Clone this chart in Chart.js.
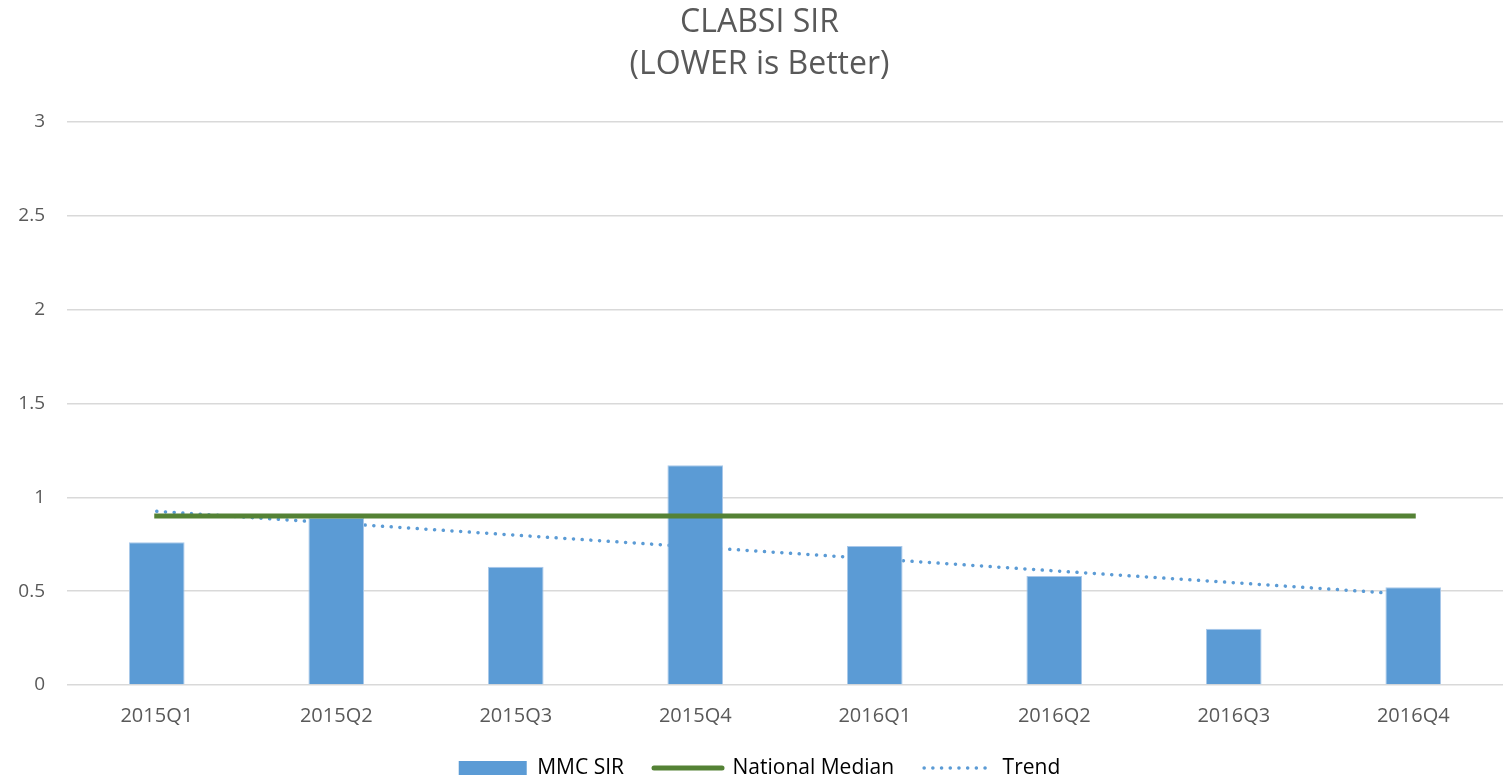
<!DOCTYPE html>
<html>
<head>
<meta charset="utf-8">
<title>CLABSI SIR</title>
<script src="https://cdn.jsdelivr.net/npm/chart.js@4.4.1/dist/chart.umd.min.js"></script>
<style>
    html, body { margin: 0; padding: 0; background: #ffffff; }
    #wrap { width: 1505px; height: 779px; }
</style>
</head>
<body>
<div id="wrap"><canvas id="sirChart" width="1505" height="779"></canvas></div>
<script>
const quarters = ["2015Q1", "2015Q2", "2015Q3", "2015Q4", "2016Q1", "2016Q2", "2016Q3", "2016Q4"];
const mmcSir = [0.76, 0.89, 0.63, 1.17, 0.74, 0.58, 0.30, 0.52];
const nationalMedian = [0.90, 0.90, 0.90, 0.90, 0.90, 0.90, 0.90, 0.90];
const trend = [0.925, 0.862, 0.798, 0.735, 0.672, 0.608, 0.545, 0.481];
const yTickLabels = ["0", "0.5", "1", "1.5", "2", "2.5", "3"];

const textColor = "#595959";
const fontFamily = "'Open Sans', 'Noto Sans', sans-serif";

document.addEventListener("DOMContentLoaded", () => {

    const ctx = document.getElementById("sirChart");

    new Chart(ctx, {
        data: {
            labels: quarters,
            datasets: [
                {
                    type: "line",
                    label: "National Median",
                    data: nationalMedian,
                    borderColor: "#548235",
                    borderWidth: 5,
                    borderCapStyle: "square",
                    pointRadius: 0,
                    fill: false,
                    order: 0
                },
                {
                    type: "bar",
                    label: "MMC SIR",
                    data: mmcSir,
                    backgroundColor: "#5b9bd5",
                    borderColor: "#a9c8ea",
                    borderWidth: 1,
                    categoryPercentage: 1,
                    barPercentage: 0.31,
                    order: 1
                },
                {
                    type: "line",
                    label: "Trend",
                    data: trend,
                    borderColor: "#5b9bd5",
                    borderWidth: 3.5,
                    borderDash: [0.1, 8.6],
                    borderCapStyle: "round",
                    pointRadius: 0,
                    fill: false,
                    order: 2
                }
            ]
        },
        options: {
            responsive: false,
            animation: false,
            layout: {
                padding: { left: 16, right: 2, top: 0, bottom: -9.5 }
            },
            plugins: {
                tooltip: { enabled: false },
                title: {
                    display: true,
                    text: ["CLABSI SIR", "(LOWER is Better)"],
                    color: textColor,
                    font: { family: fontFamily, size: 32, weight: "normal", lineHeight: 1.34 },
                    padding: { top: 1, bottom: 35 }
                },
                legend: {
                    position: "bottom",
                    labels: {
                        color: textColor,
                        font: { family: fontFamily, size: 21 },
                        usePointStyle: true,
                        pointStyleWidth: 68,
                        boxHeight: 14,
                        padding: 30,
                        generateLabels: () => [
                            {
                                text: "MMC SIR",
                                fillStyle: "#5b9bd5",
                                strokeStyle: "#5b9bd5",
                                lineWidth: 0,
                                pointStyle: "rect",
                                datasetIndex: 1,
                                hidden: false
                            },
                            {
                                text: "National Median",
                                fillStyle: "#548235",
                                strokeStyle: "#548235",
                                lineWidth: 5,
                                lineCap: "round",
                                pointStyle: "line",
                                datasetIndex: 0,
                                hidden: false
                            },
                            {
                                text: "Trend",
                                fillStyle: "#5b9bd5",
                                strokeStyle: "#5b9bd5",
                                lineWidth: 3.5,
                                lineCap: "round",
                                lineDash: [0.1, 8.6],
                                pointStyle: "line",
                                datasetIndex: 2,
                                hidden: false
                            }
                        ]
                    }
                }
            },
            scales: {
                x: {
                    grid: { display: false, drawTicks: false },
                    border: { display: false },
                    ticks: {
                        color: textColor,
                        font: { family: fontFamily, size: 20, lineHeight: 1 },
                        padding: 21,
                        maxRotation: 0
                    },
                    afterFit: (scale) => { scale.height = 42.5; }
                },
                y: {
                    min: 0,
                    max: 3,
                    grid: { color: "#d9d9d9", lineWidth: 1.5, drawTicks: false },
                    border: { display: false },
                    ticks: {
                        stepSize: 0.5,
                        color: textColor,
                        font: { family: fontFamily, size: 19 },
                        padding: 22,
                        callback: (value, index) => yTickLabels[index]
                    },
                    afterFit: (scale) => { scale.width = 51; }
                }
            }
        }
    });

});
</script>
</body>
</html>
